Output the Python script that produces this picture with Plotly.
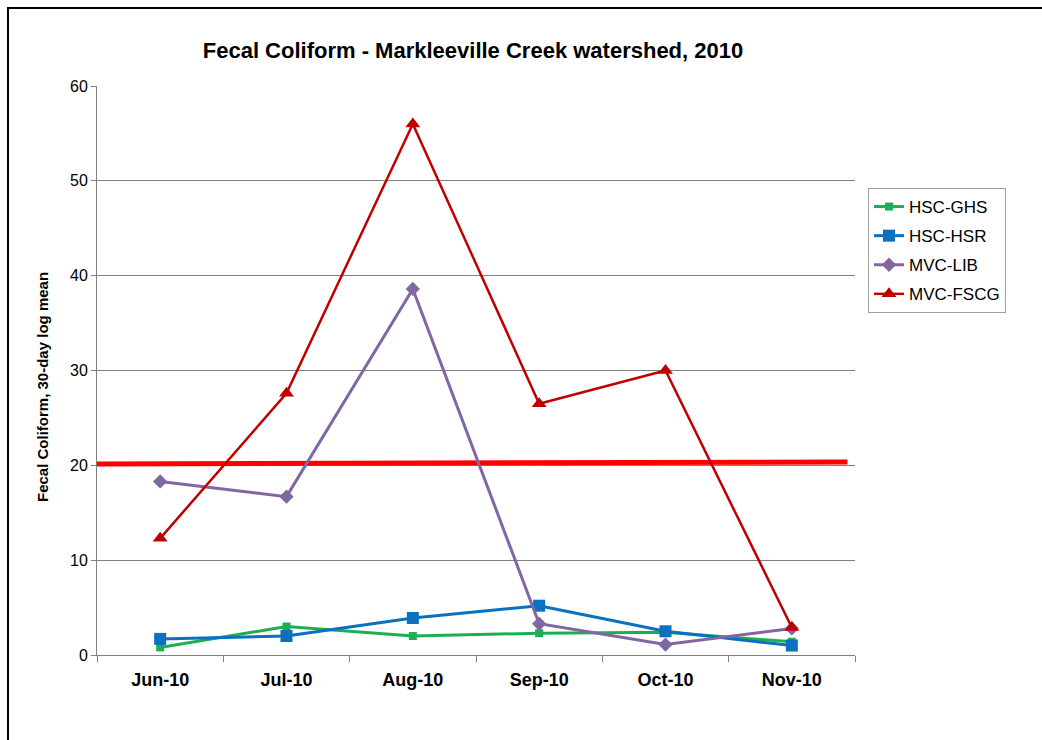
import plotly.graph_objects as go

months = ["Jun-10", "Jul-10", "Aug-10", "Sep-10", "Oct-10", "Nov-10"]
hsc_ghs = [0.8, 3.0, 2.0, 2.3, 2.4, 1.4]
hsc_hsr = [1.7, 2.0, 3.9, 5.2, 2.5, 1.0]
mvc_lib = [18.3, 16.7, 38.6, 3.3, 1.1, 2.8]
mvc_fscg = [12.3, 27.6, 56.0, 26.5, 30.0, 2.9]
threshold_x = [-0.5, 5.44]
threshold_y = [20.15, 20.36]

xpos = list(range(len(months)))

fig = go.Figure()
fig.add_trace(go.Scatter(x=threshold_x, y=threshold_y, mode="lines",
                         line=dict(color="#FF0000", width=5), showlegend=False,
                         hoverinfo="skip"))
fig.add_trace(go.Scatter(x=xpos, y=hsc_ghs, name="HSC-GHS", mode="lines+markers",
                         legendgroup="g1",
                         line=dict(color="#1DAE55", width=3),
                         marker=dict(symbol="square", size=8, color="#1DAE55")))
fig.add_trace(go.Scatter(x=xpos, y=hsc_hsr, name="HSC-HSR", mode="lines+markers",
                         legendgroup="g2",
                         line=dict(color="#0A70C0", width=3),
                         marker=dict(symbol="square", size=12, color="#0A70C0")))
fig.add_trace(go.Scatter(x=xpos, y=mvc_lib, name="MVC-LIB", mode="lines+markers",
                         legendgroup="g3",
                         line=dict(color="#8066A3", width=3),
                         marker=dict(symbol="diamond", size=11, color="#8066A3")))
fig.add_trace(go.Scatter(x=xpos, y=mvc_fscg, name="MVC-FSCG", mode="lines+markers",
                         legendgroup="g4",
                         line=dict(color="#C00000", width=2.5),
                         marker=dict(symbol="triangle-up", size=13, color="#C00000")))

L, R, T, B = 97, 187, 86, 85
W, H = 1042, 740
pw, ph = W - L - R, H - T - B

def px_x(v):
    return (v - L) / pw

def px_y(v):
    return (H - B - v) / ph

fig.update_layout(
    width=W, height=H,
    margin=dict(l=L, r=R, t=T, b=B),
    paper_bgcolor="white", plot_bgcolor="white",
    font=dict(family="Liberation Sans, Arial, sans-serif", color="black"),
    title=dict(text="<b>Fecal Coliform - Markleeville Creek watershed, 2010</b>",
               x=px_x(473), xanchor="center", xref="paper",
               y=1 - 50 / H, yanchor="middle", font=dict(size=22)),
    xaxis=dict(range=[-0.5, 5.5], tickvals=xpos, ticktext=["<b>%s</b>" % m for m in months],
               ticks="", showgrid=False, showline=True, linecolor="#808080", linewidth=1,
               tickfont=dict(size=18), zeroline=False, ticklabelstandoff=8,
               minor=dict(tickvals=[-0.5, 0.5, 1.5, 2.5, 3.5, 4.5, 5.5], ticks="outside",
                          ticklen=6, tickcolor="#808080", showgrid=False)),
    yaxis=dict(range=[0, 60], dtick=10, ticks="outside", ticklen=5, tickcolor="#808080",
               showgrid=True, gridcolor="#808080", gridwidth=1, showline=True,
               linecolor="#808080", linewidth=1, zeroline=False, tickfont=dict(size=16)),
    legend=dict(x=px_x(868), y=px_y(188), xanchor="left", yanchor="top",
                bordercolor="#A0A0A0", borderwidth=1, font=dict(size=17),
                tracegroupgap=4, itemwidth=30),
    annotations=[dict(text="<b>Fecal Coliform, 30-day log mean</b>", textangle=-90,
                      xref="paper", yref="paper", x=px_x(42), y=px_y(387),
                      xanchor="center", yanchor="middle", showarrow=False,
                      font=dict(size=15))],
    shapes=[dict(type="rect", xref="paper", yref="paper",
                 x0=px_x(8), x1=px_x(1060), y0=px_y(760), y1=px_y(8),
                 line=dict(color="black", width=2), layer="above")],
)

fig.write_html("out.html")
